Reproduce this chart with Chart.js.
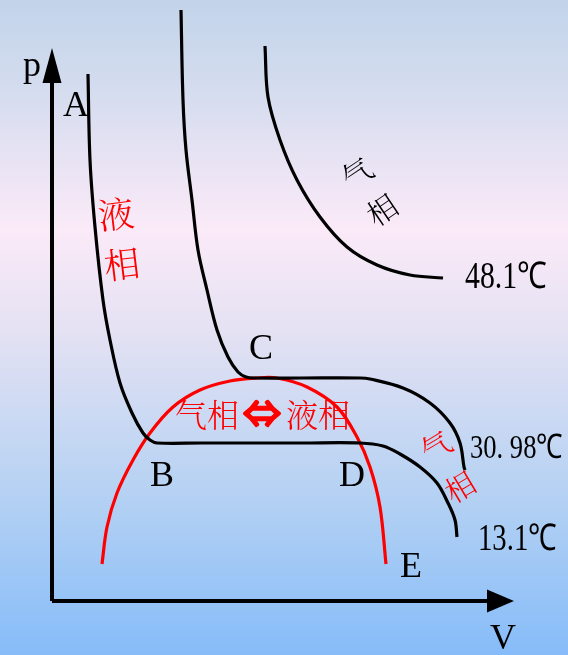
<!DOCTYPE html>
<html lang="zh">
<head>
<meta charset="UTF-8" />
<title>CO2 等温线</title>
<script src="https://cdn.jsdelivr.net/npm/chart.js"></script>
<style>
  html, body { margin: 0; padding: 0; overflow: hidden; }
  canvas { display: block; }
</style>
</head>
<body>
<canvas id="isoChart" width="568" height="655"></canvas>
<script>
// isotherms as (V, p) pairs, origin at the axes corner
const iso131 = [[36,527],[38,441],[43,374],[51,301],[58,261],[68,218],[80,188],[91,168],[98,161],[105,158],
  [150,158],[250,158],[308,158],[331,155],[348,147],[368,134],[385,118],[396,98],[403,81],[405,64]];
const iso3098 = [[129,591],[131,501],[134,451],[140,401],[146,351],[155,311],[165,271],[176,244],[186,229],
  [194,224],[203,223],[250,223],[308,223],[318,222],[351,213],[378,198],[398,178],[408,158],[412,134],[413,131]];
const iso481 = [[213,555],[216,504],[228,461],[245,421],[268,384],[295,354],[325,336],[358,326],[391,323]];
// two-phase boundary
const dome = [[50,37],[55,74],[65,108],[81,141],[98,168],[121,194],[148,211],[178,220],[205,223],
  [225,223],[255,214],[285,194],[305,164],[318,134],[328,94],[334,37]];

const axisP = [[0,0],[0,518]];
const axisV = [[0,0],[435,0]];

const tempLabels = ['48.1℃', '30. 98℃', '13.1℃'];
const tempPos = [[413,323],[418,152],[426,61]];

const toXY = arr => arr.map(d => ({ x: d[0], y: d[1] }));

function line(data, color, width, tension) {
  return {
    data: toXY(data), showLine: true, borderColor: color, borderWidth: width,
    pointRadius: 0, fill: false, tension: tension
  };
}

const background = {
  id: 'background',
  beforeDraw(chart) {
    const { ctx, width, height } = chart;
    const g = ctx.createLinearGradient(0, 0, 0, height);
    g.addColorStop(0, '#c2d4ea');
    g.addColorStop(0.15, '#d6ddef');
    g.addColorStop(0.35, '#fbeaf8');
    g.addColorStop(0.5, '#e5e2f3');
    g.addColorStop(0.76, '#b4d1f3');
    g.addColorStop(1, '#86bcf9');
    ctx.save();
    ctx.fillStyle = g;
    ctx.fillRect(0, 0, width, height);
    ctx.restore();
  }
};

const serif = '"Liberation Serif", "Times New Roman", serif';
const cjk = '"Noto Serif CJK SC", "Noto Sans CJK SC", sans-serif';

const labels = [
  { t: 'p', v: -20, p: 534, font: '36px ' + serif },
  { t: 'A', v: 24, p: 494, font: '36px ' + serif },
  { t: 'B', v: 110, p: 124, font: '36px ' + serif },
  { t: 'C', v: 209, p: 251, font: '36px ' + serif },
  { t: 'D', v: 300, p: 124, font: '36px ' + serif },
  { t: 'E', v: 359, p: 33, font: '36px ' + serif },
  { t: 'V', v: 451, p: -39, font: '36px ' + serif },
  { t: '液', v: 64, p: 387, font: '300 36px ' + cjk, color: '#ff0000', rot: -7 },
  { t: '相', v: 70, p: 337, font: '300 36px ' + cjk, color: '#ff0000', rot: -7 },
  { t: '气相', v: 155, p: 186, font: '300 32px ' + cjk, color: '#ff0000' },
  { t: '⇔', v: 210, p: 188, font: '36px ' + cjk, color: '#ff0000', stroke: 3.5 },
  { t: '液相', v: 266, p: 186, font: '300 32px ' + cjk, color: '#ff0000' },
  { t: '气', v: 305, p: 428, font: '300 30px ' + cjk, rot: -34 },
  { t: '相', v: 330, p: 391, font: '300 30px ' + cjk, rot: -34 },
  { t: '气', v: 384, p: 155, font: '300 30px ' + cjk, color: '#ff0000', rot: -31 },
  { t: '相', v: 408, p: 114, font: '300 30px ' + cjk, color: '#ff0000', rot: -31 }
];
const tempFonts = ['37px ', '34px ', '37px '];
const tempWidths = [82, 93, 79];

const annotations = {
  id: 'annotations',
  afterDatasetsDraw(chart) {
    const { ctx } = chart;
    const xs = chart.scales.x, ys = chart.scales.y;
    const X = v => xs.getPixelForValue(v), Y = p => ys.getPixelForValue(p);
    ctx.save();
    // arrow heads
    ctx.fillStyle = '#000';
    ctx.beginPath();
    ctx.moveTo(X(0), Y(553));
    ctx.lineTo(X(0) - 9.5, Y(518));
    ctx.lineTo(X(0) + 9.5, Y(518));
    ctx.closePath();
    ctx.fill();
    ctx.beginPath();
    ctx.moveTo(X(462), Y(0));
    ctx.lineTo(X(435), Y(0) - 11.5);
    ctx.lineTo(X(435), Y(0) + 11.5);
    ctx.closePath();
    ctx.fill();

    ctx.textAlign = 'center';
    ctx.textBaseline = 'middle';
    labels.forEach(l => {
      ctx.save();
      ctx.translate(X(l.v), Y(l.p));
      if (l.rot) ctx.rotate(l.rot * Math.PI / 180);
      ctx.font = l.font;
      ctx.fillStyle = l.color || '#000';
      ctx.fillText(l.t, 0, 0);
      if (l.stroke) {
        ctx.strokeStyle = ctx.fillStyle;
        ctx.lineWidth = l.stroke;
        ctx.lineJoin = 'round';
        ctx.strokeText(l.t, 0, 0);
      }
      ctx.restore();
    });

    // temperature tags, squeezed horizontally
    ctx.textAlign = 'left';
    tempLabels.forEach((t, i) => {
      ctx.save();
      ctx.font = tempFonts[i] + serif;
      const w = ctx.measureText(t).width;
      ctx.translate(X(tempPos[i][0]), Y(tempPos[i][1]));
      ctx.scale(Math.min(1, tempWidths[i] / w), 1);
      ctx.fillStyle = '#000';
      ctx.fillText(t, 0, 0);
      ctx.restore();
    });
    ctx.restore();
  }
};

new Chart(document.getElementById('isoChart'), {
  type: 'scatter',
  data: {
    datasets: [
      line(axisP, '#000', 4, 0),
      line(axisV, '#000', 4, 0),
      line(iso131, '#000', 3.2, 0.35),
      line(iso3098, '#000', 3.2, 0.35),
      line(iso481, '#000', 3.2, 0.35),
      line(dome, '#ff0000', 3.2, 0.35)
    ]
  },
  options: {
    responsive: false,
    animation: false,
    layout: { padding: 0 },
    plugins: { legend: { display: false }, tooltip: { enabled: false } },
    scales: {
      x: { type: 'linear', min: -52, max: 516, display: false },
      y: { type: 'linear', min: -54, max: 601, display: false }
    }
  },
  plugins: [background, annotations]
});
</script>
</body>
</html>
